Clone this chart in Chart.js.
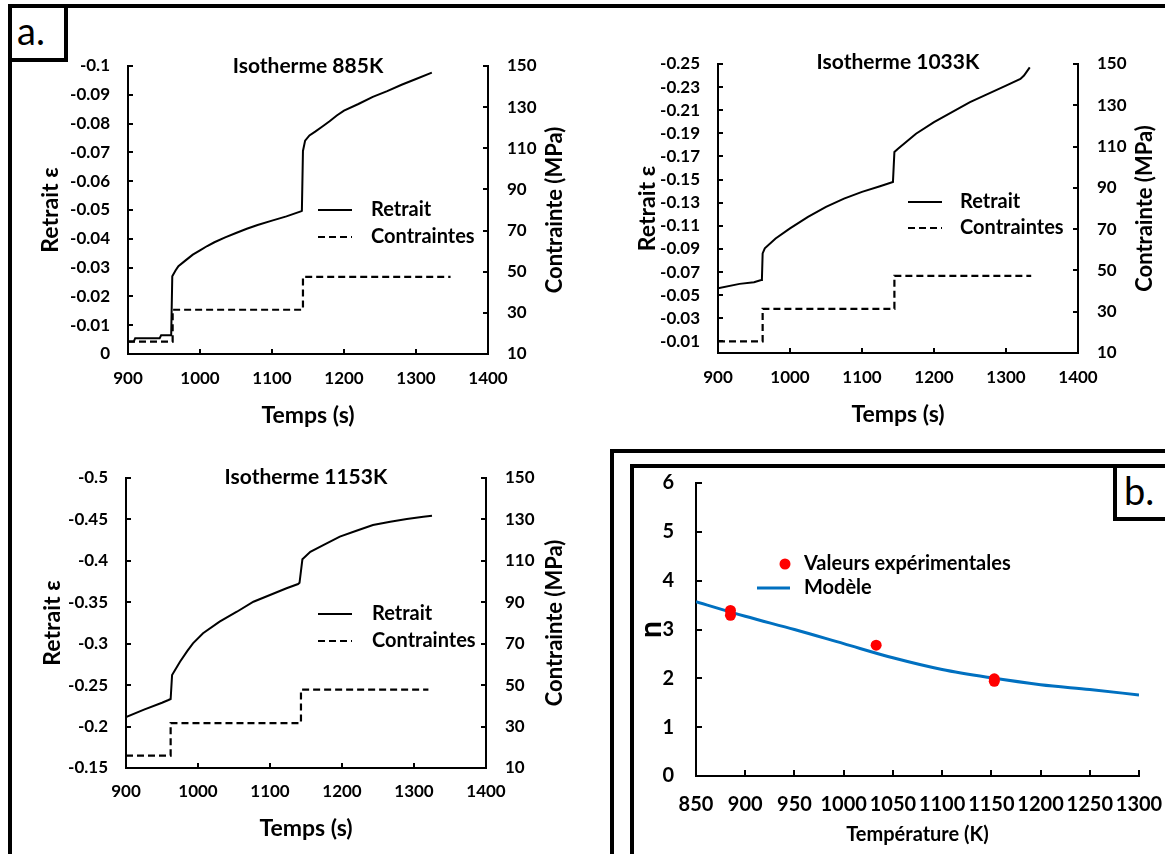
<!DOCTYPE html>
<html><head><meta charset="utf-8">
<script src="https://cdn.jsdelivr.net/npm/chart.js@4.4.1/dist/chart.umd.min.js"></script>
<style>
html,body{margin:0;padding:0;background:#fff;width:1165px;height:854px;overflow:hidden;position:relative;}
canvas{position:absolute;}
.frame{position:absolute;box-sizing:border-box;border:0 solid #000;}
.lbl{position:absolute;font-family:Lato,sans-serif;font-size:38px;line-height:38px;color:#000;}
</style></head><body>
<div class="frame" style="left:8px;top:4px;width:1200px;height:900px;border-top-width:4px;border-left-width:4px;"></div>
<div class="frame" style="left:8px;top:4px;width:60px;height:58px;border-width:4px;"></div>
<div class="lbl" style="left:17px;top:11px;">a.</div>
<div class="frame" style="left:610px;top:449px;width:600px;height:500px;border-top-width:4px;border-left-width:4px;"></div>
<div class="frame" style="left:630px;top:464px;width:600px;height:500px;border-top-width:4px;border-left-width:4px;"></div>
<div class="frame" style="left:1113px;top:464px;width:100px;height:57px;border-width:4px;"></div>
<div class="lbl" style="left:1124px;top:471px;">b.</div>
<canvas id="c1" style="left:20px;top:36px" width="570" height="404"></canvas>
<canvas id="c2" style="left:610px;top:34px" width="555" height="406"></canvas>
<canvas id="c3" style="left:20px;top:448px" width="570" height="402"></canvas>
<canvas id="c4" style="left:636px;top:470px" width="529" height="384"></canvas>
<script>
// ---------- DATA ----------
const timeTicks = [900, 1000, 1100, 1200, 1300, 1400];
const stressTicks = [10, 30, 50, 70, 90, 110, 130, 150];

// Isotherme 885K
const yTicks885 = [-0.1, -0.09, -0.08, -0.07, -0.06, -0.05, -0.04, -0.03, -0.02, -0.01, 0];
const time885 = [900, 908, 910, 944, 946, 960, 961.5, 966, 970, 980, 990, 1000, 1010, 1020, 1035, 1050, 1065, 1080, 1100, 1120, 1140, 1141.5, 1143, 1146, 1152, 1160, 1170, 1180, 1190, 1200, 1220, 1240, 1260, 1280, 1300, 1322];
const retrait885 = [-0.0043, -0.0043, -0.0055, -0.0055, -0.0065, -0.0065, -0.027, -0.029, -0.0305, -0.0325, -0.0345, -0.036, -0.0375, -0.0388, -0.0405, -0.042, -0.0435, -0.0448, -0.0463, -0.0478, -0.0495, -0.0497, -0.0705, -0.0741, -0.0759, -0.0772, -0.079, -0.0808, -0.0828, -0.0845, -0.0868, -0.0893, -0.0913, -0.0935, -0.0955, -0.0977];
const stressTime885 = [900, 962, 1143, 1348];
const stress885 = [16, 31.5, 47.5, 47.5];

// Isotherme 1033K
const yTicks1033 = [-0.25, -0.23, -0.21, -0.19, -0.17, -0.15, -0.13, -0.11, -0.09, -0.07, -0.05, -0.03, -0.01];
const time1033 = [900, 930, 950, 960, 961, 962, 965, 980, 1000, 1025, 1050, 1075, 1100, 1125, 1143, 1145, 1150, 1175, 1200, 1225, 1250, 1275, 1300, 1320, 1325, 1333];
const retrait1033 = [-0.056, -0.0598, -0.0612, -0.0632, -0.064, -0.0862, -0.0905, -0.099, -0.1078, -0.1178, -0.1264, -0.1336, -0.1394, -0.1443, -0.148, -0.1739, -0.1767, -0.1897, -0.1997, -0.2083, -0.217, -0.2241, -0.2313, -0.2371, -0.24, -0.2471];
const stressTime1033 = [900, 962, 1145, 1335];
const stress1033 = [15.6, 31.4, 47.4, 47.4];

// Isotherme 1153K
const yTicks1153 = [-0.5, -0.45, -0.4, -0.35, -0.3, -0.25, -0.2, -0.15];
const time1153 = [900, 925, 950, 959, 962, 964, 975, 985, 993, 1007, 1030, 1054, 1077, 1100, 1123, 1139, 1141, 1145, 1156, 1174, 1197, 1220, 1243, 1267, 1290, 1313, 1325];
const retrait1153 = [-0.2115, -0.2204, -0.2288, -0.2321, -0.2333, -0.2622, -0.2783, -0.291, -0.3005, -0.3126, -0.3266, -0.3386, -0.3507, -0.3588, -0.3669, -0.372, -0.3735, -0.4019, -0.411, -0.4191, -0.4292, -0.4364, -0.4433, -0.4473, -0.4505, -0.4533, -0.4545];
const stressTime1153 = [900, 962, 1143, 1320];
const stress1153 = [16, 31.7, 47.8, 47.8];

// Panel b : n vs température
const tempTicks = [850, 900, 950, 1000, 1050, 1100, 1150, 1200, 1250, 1300];
const nTicks = [0, 1, 2, 3, 4, 5, 6];
const expTemp = [885, 885, 1033, 1153, 1153];
const expN = [3.39, 3.29, 2.68, 1.99, 1.94];
const modelTemp = [850, 900, 950, 1000, 1050, 1100, 1150, 1200, 1250, 1300];
const modelN = [3.57, 3.27, 3.00, 2.71, 2.42, 2.18, 2.01, 1.87, 1.77, 1.66];

// ---------- RENDER ----------
Chart.defaults.font.family = 'Lato';
Chart.defaults.font.weight = 'bold';
Chart.defaults.color = '#000';

const B = (size, extra) => Object.assign({ family: 'Lato', size: size, weight: 'bold' }, extra || {});

const extras = {
  id: 'extras',
  afterDraw(chart, args, opts) {
    const ctx = chart.ctx, ca = chart.chartArea;
    if (opts.inward) {
      ctx.save(); ctx.strokeStyle = '#000'; ctx.lineWidth = 2;
      Object.values(chart.scales).forEach(s => {
        s.ticks.forEach(t => {
          const p = Math.round(s.getPixelForValue(t.value));
          ctx.beginPath();
          if (s.isHorizontal()) { ctx.moveTo(p, ca.bottom); ctx.lineTo(p, ca.bottom - opts.len); }
          else if (s.position === 'left') { ctx.moveTo(ca.left, p); ctx.lineTo(ca.left + opts.len, p); }
          else { ctx.moveTo(ca.right, p); ctx.lineTo(ca.right - opts.len, p); }
          ctx.stroke();
        });
      });
      ctx.restore();
    }
    if (opts.rtText) {
      const s = chart.scales.y1;
      ctx.save();
      ctx.font = 'bold ' + opts.rtSize + 'px Lato';
      ctx.fillStyle = '#000'; ctx.textAlign = 'center'; ctx.textBaseline = 'middle';
      ctx.translate(s.right - opts.rtOffset, (ca.top + ca.bottom) / 2);
      ctx.rotate(-Math.PI / 2);
      ctx.fillText(opts.rtText, 0, 0);
      ctx.restore();
    }
    if (opts.legSize) {
      ctx.save();
      ctx.font = 'bold ' + opts.legSize + 'px Lato';
      ctx.textBaseline = 'middle'; ctx.textAlign = 'left';
      chart.data.datasets.forEach((ds, i) => {
        const y = ca.top + opts.legY + i * opts.legDy;
        const x0 = ca.left + opts.legX;
        if (ds.showLine === false) {
          ctx.beginPath(); ctx.fillStyle = ds.backgroundColor;
          ctx.arc(ca.left + opts.legDotX, y, ds.pointRadius, 0, 2 * Math.PI); ctx.fill();
        } else {
          ctx.beginPath(); ctx.setLineDash(ds.borderDash || []);
          ctx.strokeStyle = ds.borderColor; ctx.lineWidth = ds.borderWidth;
          ctx.moveTo(x0, y); ctx.lineTo(x0 + opts.legW, y); ctx.stroke(); ctx.setLineDash([]);
        }
        ctx.fillStyle = '#000';
        ctx.fillText(ds.label, ca.left + opts.legTx, y);
      });
      ctx.restore();
    }
  }
};
Chart.register(extras);

const setTicks = arr => (s => { s.ticks = arr.map(v => ({ value: v })); });
const fmt = v => String(Math.round(v * 1000) / 1000);
const pts = (xs, ys) => xs.map((x, i) => ({ x: x, y: ys[i] }));
const fixW = w => (s => { s.width = w; s.paddingTop = 0; s.paddingBottom = 0; s.paddingLeft = 0; s.paddingRight = 0; });
const fixH = h => (s => { s.height = h; s.paddingTop = 0; s.paddingBottom = 0; s.paddingLeft = 0; s.paddingRight = 0; });

function isoChart(id, P) {
  return new Chart(document.getElementById(id), {
    type: 'line',
    data: {
      datasets: [
        { label: 'Retrait', data: pts(P.t, P.r), yAxisID: 'y', borderColor: '#000', borderWidth: 2, pointRadius: 0, tension: 0 },
        { label: 'Contraintes', data: pts(P.st, P.s), yAxisID: 'y1', borderColor: '#000', borderWidth: 2.2, borderDash: [7, 4], pointRadius: 0, stepped: true }
      ]
    },
    options: {
      responsive: false, animation: false, devicePixelRatio: 1,
      layout: { padding: 0, autoPadding: false },
      plugins: {
        legend: { display: false }, tooltip: { enabled: false },
        title: { display: true, text: P.title, fullSize: false, font: B(21), color: '#000', padding: { top: P.titleTop, bottom: 4.8 - P.titleTop } },
        extras: {
          inward: true, len: 5,
          rtText: 'Contrainte (MPa)', rtSize: 22, rtOffset: P.rtOff,
          legSize: 20, legX: P.lx, legW: 34, legTx: P.ltx, legY: P.ly, legDy: P.ldy
        }
      },
      scales: {
        x: {
          type: 'linear', min: 900, max: 1400, afterBuildTicks: setTicks(timeTicks),
          grid: { display: false, drawTicks: false }, border: { color: '#000', width: 2 },
          ticks: { padding: P.xPad, font: B(17), maxRotation: 0, autoSkip: false, callback: v => String(v) },
          title: { display: true, text: 'Temps (s)', font: B(23), padding: { top: 0, bottom: P.xtPad } },
          afterFit: fixH(P.xH)
        },
        y: {
          type: 'linear', position: 'left', reverse: true, min: P.ymin, max: P.ymax, afterBuildTicks: setTicks(P.yt),
          grid: { display: false, drawTicks: false }, border: { color: '#000', width: 2 },
          ticks: { padding: 18, font: B(17), autoSkip: false, callback: fmt },
          title: { display: true, text: 'Retrait ε', font: B(23), padding: { top: P.ytPad, bottom: 0 } },
          afterFit: fixW(P.yW)
        },
        y1: {
          type: 'linear', position: 'right', min: 10, max: 150, afterBuildTicks: setTicks(stressTicks),
          grid: { display: false, drawTicks: false }, border: { color: '#000', width: 2 },
          ticks: { padding: 19, font: B(17), autoSkip: false, callback: v => String(v) },
          afterFit: fixW(P.y1W)
        }
      }
    }
  });
}

isoChart('c1', { title: 'Isotherme 885K', t: time885, r: retrait885, st: stressTime885, s: stress885, yt: yTicks885, ymin: -0.1, ymax: 0,
  titleTop: 17.4, yW: 108, y1W: 102, xH: 86, xPad: 14, xtPad: 11, ytPad: 17, rtOff: 35, lx: 190, ltx: 243, ly: 144, ldy: 27 });
isoChart('c2', { title: 'Isotherme 1033K', t: time1033, r: retrait1033, st: stressTime1033, s: stress1033, yt: yTicks1033, ymin: -0.25, ymax: 0,
  titleTop: 15.4, yW: 108, y1W: 87, xH: 87, xPad: 14, xtPad: 12, ytPad: 24, rtOff: 20, lx: 190, ltx: 242, ly: 138, ldy: 26 });
isoChart('c3', { title: 'Isotherme 1153K', t: time1153, r: retrait1153, st: stressTime1153, s: stress1153, yt: yTicks1153, ymin: -0.5, ymax: -0.15,
  titleTop: 16.4, yW: 106, y1W: 104, xH: 82, xPad: 13, xtPad: 8, ytPad: 19, rtOff: 35, lx: 192, ltx: 246, ly: 136, ldy: 27 });

new Chart(document.getElementById('c4'), {
  type: 'line',
  data: {
    datasets: [
      { label: 'Valeurs expérimentales', data: pts(expTemp, expN), showLine: false, pointRadius: 5.5, pointHoverRadius: 5.5, backgroundColor: '#FF0000', borderColor: '#FF0000', borderWidth: 0 },
      { label: 'Modèle', data: pts(modelTemp, modelN), borderColor: '#0070C0', borderWidth: 3, pointRadius: 0, cubicInterpolationMode: 'monotone' }
    ]
  },
  options: {
    responsive: false, animation: false, devicePixelRatio: 1,
    layout: { padding: { top: 13, right: 26, left: 0, bottom: 0 }, autoPadding: false },
    plugins: {
      legend: { display: false }, tooltip: { enabled: false },
      extras: { inward: true, len: 6, legSize: 20, legX: 61, legW: 33, legDotX: 89, legTx: 108, legY: 81, legDy: 24 }
    },
    scales: {
      x: {
        type: 'linear', min: 850, max: 1300, afterBuildTicks: setTicks(tempTicks),
        grid: { display: false, drawTicks: false }, border: { color: '#000', width: 2 },
        ticks: { padding: 17, font: B(20), maxRotation: 0, autoSkip: false, callback: v => String(v) },
        title: { display: true, text: 'Température (K)', font: B(20), padding: { top: 0, bottom: 7 } },
        afterFit: fixH(78)
      },
      y: {
        type: 'linear', position: 'left', min: 0, max: 6, afterBuildTicks: setTicks(nTicks),
        grid: { display: false, drawTicks: false }, border: { color: '#000', width: 2 },
        ticks: { padding: 22, font: B(20), autoSkip: false, callback: v => String(v) },
        title: { display: true, text: 'n', font: B(30, { lineHeight: 1 }), padding: { top: 0, bottom: 0 } },
        afterFit: fixW(60)
      }
    }
  }
});
</script>
</body></html>
